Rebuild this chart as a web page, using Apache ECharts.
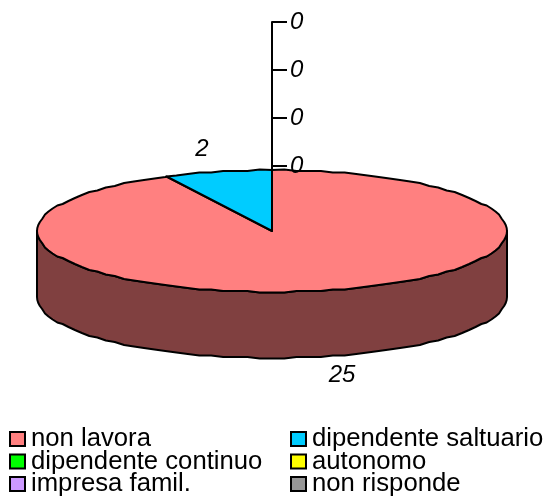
<!DOCTYPE html>
<html><head><meta charset="utf-8">
<style>html,body{margin:0;padding:0;background:#fff}#c{width:547px;height:497px}</style>
<script src="https://cdn.jsdelivr.net/npm/echarts@6/dist/echarts.min.js"></script>
</head><body><div id="c"></div>
<script>
const categories = ['non lavora','dipendente saltuario','dipendente continuo','autonomo','impresa famil.','non risponde'];
const values = [25,2,0,0,0,0];
const topColors = ['#FF8080','#00CCFF','#00FF00','#FFFF00','#CC99FF','#969696'];
const sideColors = ['#804040','#006680','#008000','#808000','#664C80','#4B4B4B'];
const axisTicks = [0,1,2,3];
const axisTickLabels = ['0','0','0','0'];

const FONT = '"Liberation Sans", Arial, sans-serif';
const CX = 272, CY = 231, RX = 235, RY = 61, DEPTH = 66, STEP = 3, SNAP = 1.5;
const total = values.reduce((a,b)=>a+b,0);
const pt = (deg,dy=0,rx=RX,ry=RY)=>{
  const r = deg*Math.PI/180;
  return [CX+Math.sin(r)*rx, CY-Math.cos(r)*ry+dy];
};
const snapped = (p)=>[p[0],Math.round(p[1]/SNAP)*SNAP];
const arc = (a,b,dy=0)=>{
  const out=[pt(a,dy)];
  let d=Math.ceil(a/STEP)*STEP;
  for(;d<b;d+=STEP){ if(d>a) out.push(snapped(pt(d,dy))); }
  out.push(pt(b,dy));
  return out;
};
const stroke = {stroke:'#000',lineWidth:2,lineJoin:'round'};
let cum = 0;
const spans = values.map(v=>{const s=[cum/total*360,(cum+v)/total*360];cum+=v;return s;});

function sideItem(i){
  return ()=>{
    const [a,b]=spans[i];
    const s=Math.max(a,90), e=Math.min(b,270);
    if(values[i]===0||e<=s) return {type:'group',children:[]};
    const tops=arc(s,e,0), bots=arc(s,e,DEPTH).reverse();
    return {type:'polygon',shape:{points:tops.concat(bots)},style:{fill:sideColors[i],...stroke}};
  };
}
function topItem(i){
  return ()=>{
    const [a,b]=spans[i];
    if(values[i]===0) return {type:'group',children:[]};
    const mid=(a+b)/2;
    const front=mid>90&&mid<270;
    const lp=pt(mid,front?DEPTH:0,304,front?81:84);
    return {type:'group',children:[
      {type:'polygon',z2:2,shape:{points:[[CX,CY]].concat(arc(a,b,0))},style:{fill:topColors[i],...stroke}},
      {type:'text',z2:5,style:{x:lp[0],y:lp[1],text:String(values[i]),fill:'#000',font:'italic 24px '+FONT,align:'center',verticalAlign:'middle'}}
    ]};
  };
}
const sides = categories.map((c,i)=>({
  type:'custom',name:c,coordinateSystem:'none',silent:true,z:2,
  itemStyle:{color:topColors[i]},data:[[values[i]]],renderItem:sideItem(i)
}));
const tops = categories.map((c,i)=>({
  type:'custom',name:c,coordinateSystem:'none',silent:true,z:3,
  itemStyle:{color:topColors[i]},data:[[values[i]]],renderItem:topItem(i)
}));
const pole = {type:'custom',coordinateSystem:'none',silent:true,z:4,data:[[0]],
  renderItem:()=>({type:'line',shape:{x1:CX,y1:150,x2:CX,y2:CY},style:{stroke:'#000',lineWidth:2}})};
const legendBase = {orient:'vertical',icon:'rect',itemWidth:15,itemHeight:14,itemGap:-3.5,padding:0,height:100,
  selectedMode:false,textStyle:{fontFamily:FONT,fontSize:25.7,lineHeight:20,color:'#000',padding:[0,0,0,1]},
  itemStyle:{borderColor:'#000',borderWidth:2}};
const chart = echarts.init(document.getElementById('c'),null,{renderer:'canvas'});
chart.setOption({
  animation:false,backgroundColor:'#fff',
  grid:{left:CX,width:10,top:22,height:144},
  xAxis:{type:'value',show:false},
  yAxis:{type:'value',min:0,max:3,interval:1,z:10,
    axisLine:{show:true,onZero:false,lineStyle:{color:'#000',width:2}},
    axisTick:{show:true,inside:true,length:15,lineStyle:{color:'#000',width:2}},
    splitLine:{show:false},
    axisLabel:{inside:true,margin:18,fontFamily:FONT,fontSize:24,fontStyle:'italic',color:'#000',
      formatter:(v)=>axisTickLabels[axisTicks.indexOf(v)]}},
  legend:[
    {...legendBase,left:9,top:426,data:[categories[0],categories[2],categories[4]]},
    {...legendBase,left:290,top:426,data:[categories[1],categories[3],categories[5]]}
  ],
  series:[...sides,...tops,pole]
});
</script></body></html>
